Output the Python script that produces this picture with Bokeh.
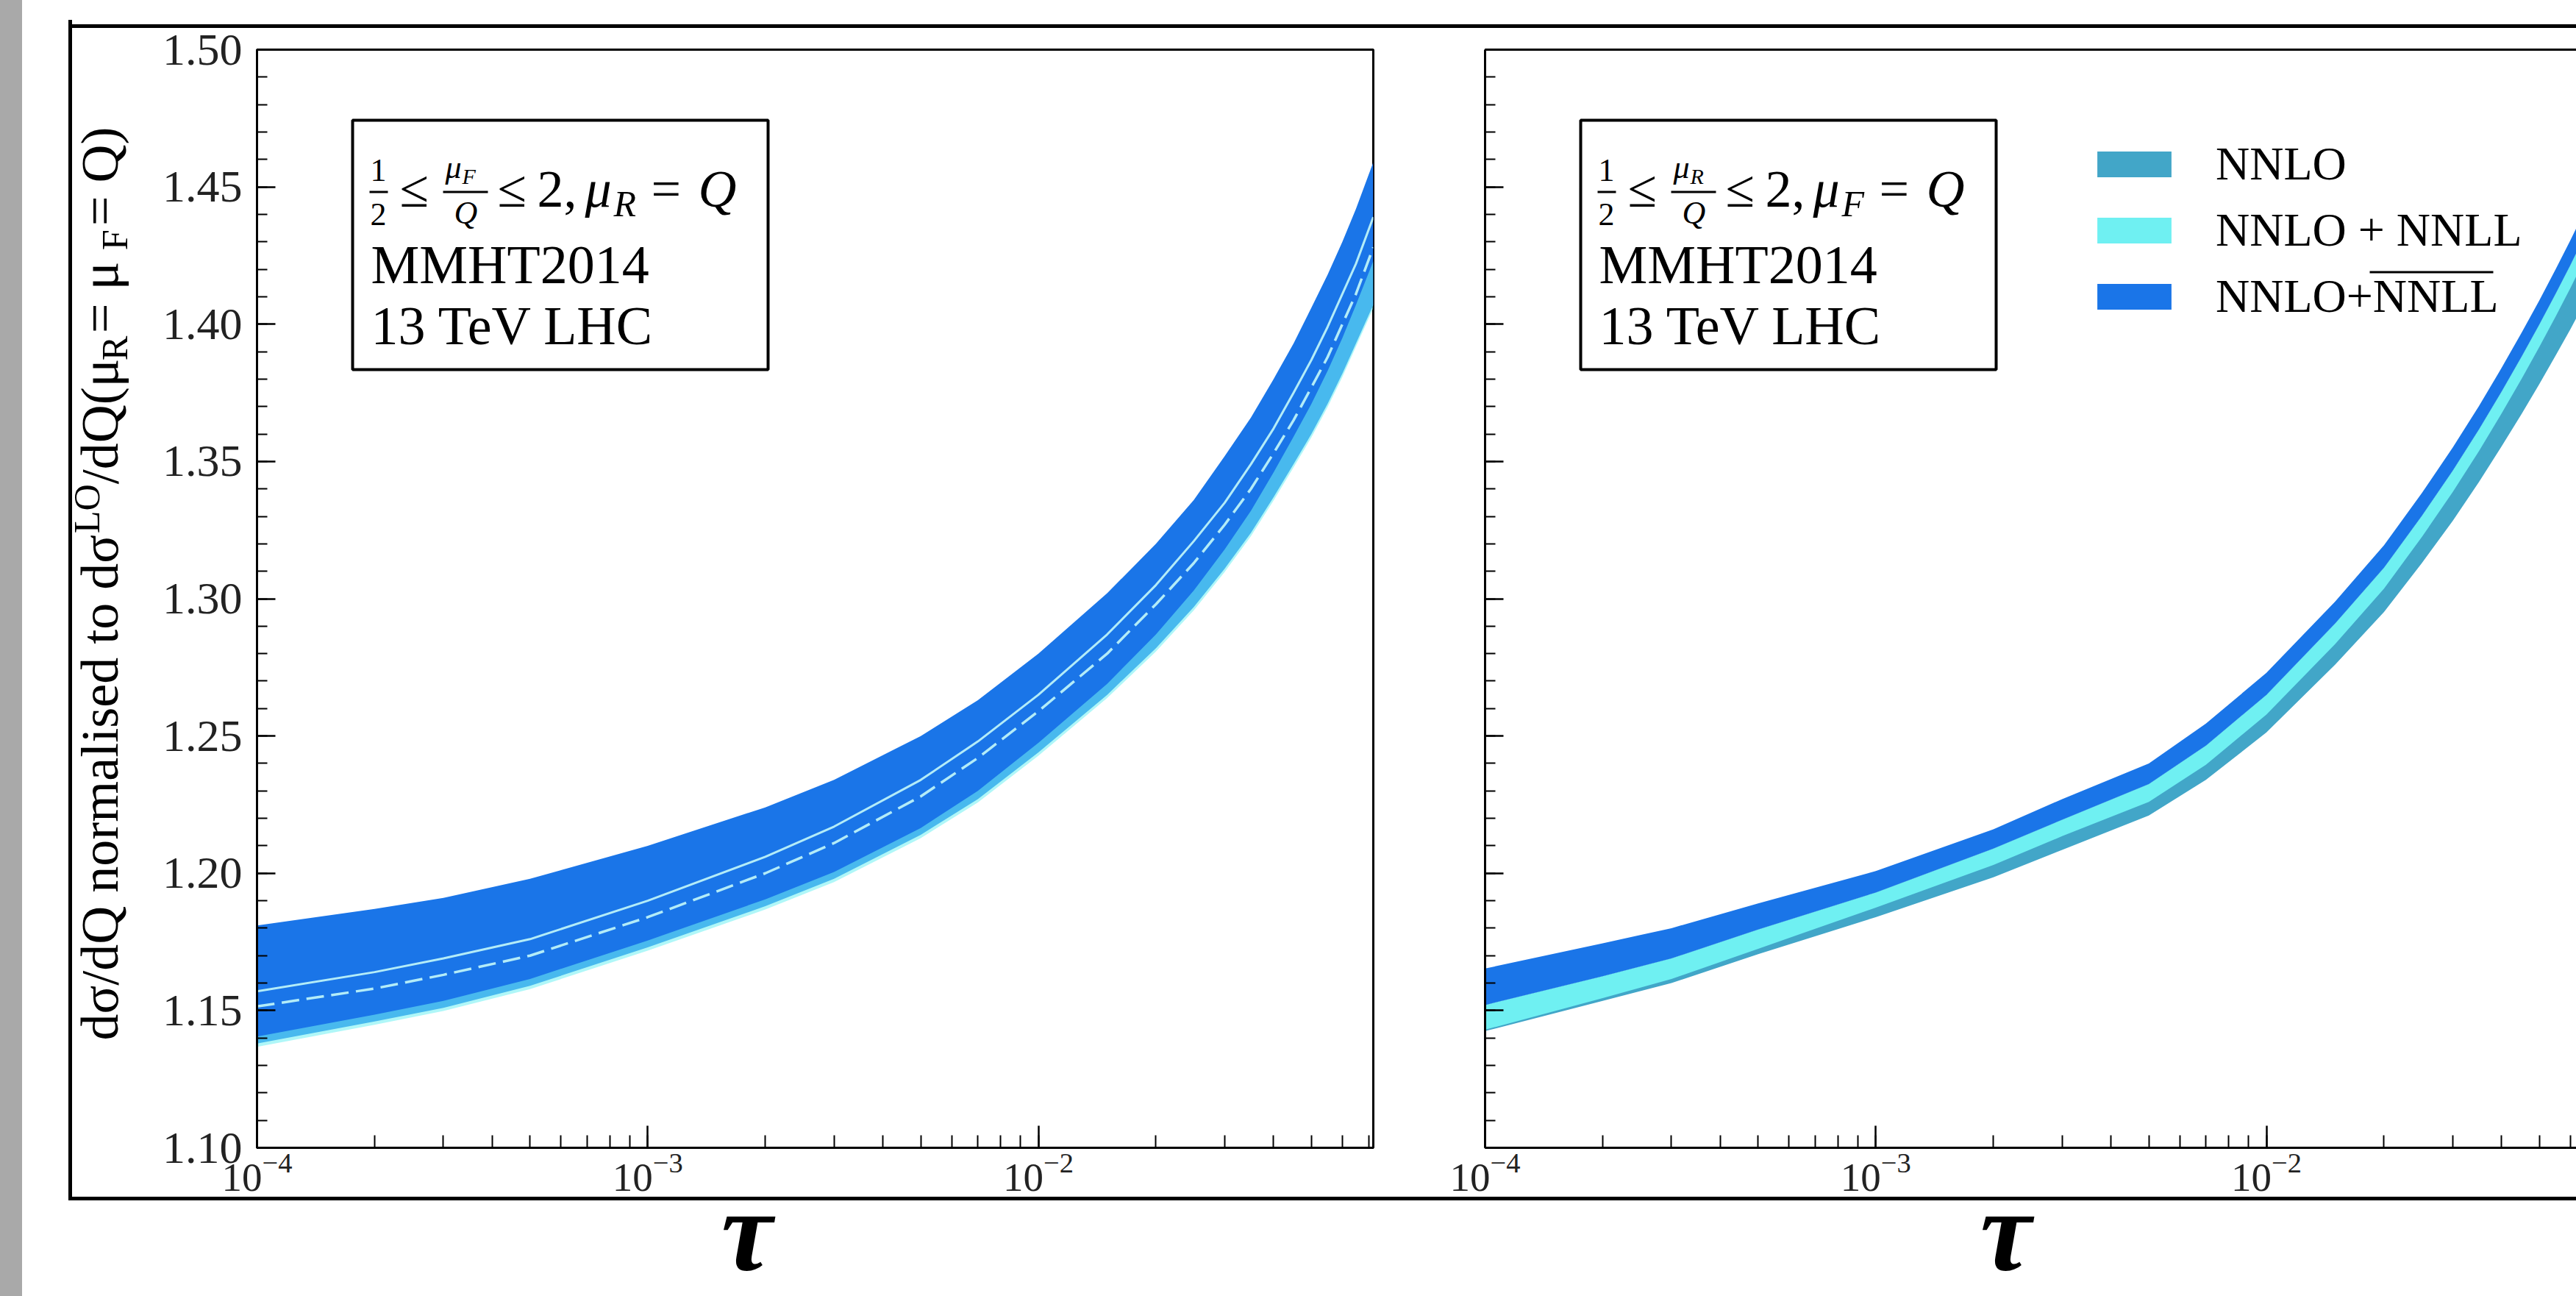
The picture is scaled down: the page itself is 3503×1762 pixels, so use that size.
import math
from bokeh.plotting import figure
from bokeh.models import (Range1d, SingleIntervalTicker, PrintfTickFormatter, Label,
                          BoxAnnotation, Legend, LegendItem, Div, Spacer, LogAxis, FixedTicker,
                          CustomJSTickFormatter)
from bokeh.layouts import row, column
from bokeh.embed import file_html
from bokeh.resources import INLINE
from bokeh.core.validation import silence
from bokeh.core.validation.warnings import MISSING_RENDERERS

silence(MISSING_RENDERERS, True)

# ---------------- data ----------------
tau = [1e-4, 2e-4, 3e-4, 5e-4, 1e-3, 2e-3, 3e-3, 5e-3, 7e-3, 1e-2, 1.5e-2, 2e-2,
       2.5e-2, 3e-2, 3.5e-2, 4e-2, 4.5e-2, 5e-2, 5.5e-2, 6e-2, 6.5e-2, 7.2e-2]

# left panel: 1/2 <= muF/Q <= 2, muR = Q
left_bar_hi = [1.181, 1.187, 1.191, 1.198, 1.210, 1.224, 1.234, 1.250, 1.263, 1.280, 1.302,
               1.320, 1.336, 1.352, 1.366, 1.380, 1.393, 1.406, 1.418, 1.430, 1.442, 1.459]
left_bar_lo = [1.138, 1.146, 1.151, 1.159, 1.173, 1.188, 1.198, 1.214, 1.227, 1.244, 1.265,
               1.282, 1.297, 1.311, 1.324, 1.337, 1.349, 1.360, 1.371, 1.382, 1.393, 1.407]
left_nnll_lo = [1.1368, 1.1448, 1.1498, 1.1578, 1.1718, 1.1868, 1.1968, 1.2128, 1.2258, 1.2428,
                1.2638, 1.2808, 1.2958, 1.3098, 1.3228, 1.3358, 1.3478, 1.3588, 1.3698, 1.3808,
                1.3918, 1.4058]
left_nnll_hi = [1.1405, 1.1485, 1.1535, 1.1615, 1.1755, 1.1905, 1.2005, 1.2165, 1.2300, 1.2475,
                1.2690, 1.2870, 1.3030, 1.3180, 1.3320, 1.3460, 1.3590, 1.3710, 1.3830, 1.3950,
                1.4070, 1.4230]
left_central = [1.157, 1.164, 1.169, 1.176, 1.190, 1.206, 1.217, 1.234, 1.248, 1.265, 1.287,
                1.305, 1.321, 1.335, 1.349, 1.362, 1.375, 1.387, 1.399, 1.411, 1.422, 1.439]
left_dashed = [1.1515, 1.158, 1.163, 1.170, 1.184, 1.200, 1.211, 1.228, 1.242, 1.259, 1.280,
               1.298, 1.313, 1.327, 1.340, 1.353, 1.365, 1.377, 1.388, 1.400, 1.411, 1.428]

# right panel: 1/2 <= muR/Q <= 2, muF = Q
right_bar_hi = [1.1653, 1.1745, 1.1800, 1.1890, 1.2008, 1.2160, 1.2270, 1.2400, 1.2545, 1.2730,
                1.2990, 1.3195, 1.3385, 1.3551, 1.3702, 1.3841, 1.3969, 1.4088, 1.4200, 1.4306,
                1.4407, 1.4540]
right_bar_lo = [1.1520, 1.1625, 1.1690, 1.1795, 1.1930, 1.2090, 1.2195, 1.2325, 1.2465, 1.2650,
                1.2910, 1.3113, 1.3302, 1.3467, 1.3617, 1.3755, 1.3882, 1.4000, 1.4111, 1.4216,
                1.4316, 1.4448]
right_nnll_lo = [1.1430, 1.1545, 1.1615, 1.1725, 1.1875, 1.2030, 1.2135, 1.2260, 1.2395, 1.2578,
                 1.2835, 1.3037, 1.3225, 1.3389, 1.3538, 1.3675, 1.3801, 1.3918, 1.4028, 1.4132,
                 1.4231, 1.4362]
right_nnlo_lo = [1.1425, 1.1535, 1.1600, 1.1705, 1.1840, 1.1985, 1.2085, 1.2210, 1.2340, 1.2513,
                 1.2760, 1.2952, 1.3130, 1.3284, 1.3425, 1.3555, 1.3673, 1.3783, 1.3886, 1.3982,
                 1.4075, 1.4197]

series_names = ["NNLO", "NNLO + NNLL", "NNLO+NNLL"]
y_ticks_interval = 0.05
y_min, y_max = 1.10, 1.50
x_min, x_max_left = 1e-4, 0.072

# ---------------- styling ----------------
FONT = "Liberation Serif"
C_NNLO = "#42a6c8"
C_NNLL = "#6ff0f2"
C_BAR = "#1a75e8"
C_LINE = "#b3ecf8"
MID = 0.3375            # em-box centre above the baseline

FRAME_L = 1518          # left panel frame width (px)
FRAME_R = 1484          # visible part of the right panel frame
FRAME_H = 1493
TOP_B, BOT_B = 40, 85   # panel borders above / below the frame
FIG_H = TOP_B + FRAME_H + BOT_B
UP = 11                 # panels start 11px above the top frame bar's bottom
DOWN = 18               # bottom frame bar overlaps the panels' lower border
DEC_PX = FRAME_L / math.log10(x_max_left / x_min)
x_max_right = x_min * 10 ** (FRAME_R / DEC_PX)


def panel(frame_w, xmax, min_left, min_right, labels):
    p = figure(x_axis_type="log", x_range=Range1d(x_min, xmax), y_range=Range1d(y_min, y_max),
               frame_width=frame_w, frame_height=FRAME_H, min_border_left=min_left,
               min_border_right=min_right, min_border_top=TOP_B, min_border_bottom=BOT_B,
               toolbar_location=None, output_backend="svg")
    p.grid.visible = False
    p.background_fill_color = "white"
    p.border_fill_color = None
    ya = p.yaxis[0]
    ya.ticker = SingleIntervalTicker(interval=y_ticks_interval, num_minor_ticks=5)
    ya.major_tick_in = 25
    ya.major_tick_out = 0
    ya.minor_tick_in = 14
    ya.minor_tick_out = 0
    ya.axis_line_width = 3
    ya.major_tick_line_width = 2.5
    ya.minor_tick_line_width = 2
    if labels:
        ya.formatter = PrintfTickFormatter(format="%.2f")
        ya.major_label_text_font = FONT
        ya.major_label_text_color = "#222222"
        ya.major_label_standoff = 20
        ya.major_label_text_font_size = "62px"
    else:
        ya.formatter = CustomJSTickFormatter(code="return ''")
        ya.major_label_text_color = None
        ya.major_label_standoff = 0
    xa = p.xaxis[0]
    xa.major_tick_in = 30
    xa.major_tick_out = 0
    xa.minor_tick_in = 17
    xa.minor_tick_out = 0
    xa.axis_line_width = 3
    xa.major_tick_line_width = 2.5
    xa.minor_tick_line_width = 2
    xa.major_label_text_font = FONT
    xa.major_label_text_color = "#222222"
    xa.major_label_text_font_size = "55px"
    xa.major_label_standoff = 8
    return p


def lab(p, x, y, text, size, style="normal", align="left", angle=0.0, color="black"):
    """(x, y) is the start of the text's baseline (screen units, y upwards)."""
    if angle:
        x = x - MID * size
    else:
        y = y + MID * size
    p.add_layout(Label(x=x, y=y, x_units="screen", y_units="screen", text=text,
                       text_font=FONT, text_font_size=f"{size}px", text_font_style=style,
                       text_align=align, text_baseline="middle", angle=angle,
                       text_color=color))


def box(p, l, r, t, b, fill="white", line="black", lw=4):
    p.add_layout(BoxAnnotation(left=l, right=r, top=t, bottom=b, left_units="screen",
                               right_units="screen", top_units="screen", bottom_units="screen",
                               fill_color=fill, fill_alpha=1.0, line_color=line,
                               line_alpha=1.0, line_width=lw))


def info_box(p, frac_sub, main_sub):
    # positions relative to the frame (x from left, y up from the frame bottom)
    box(p, 130, 695, 1397, 1058)
    box(p, 153, 178, 1301, 1298, fill="black", line=None, lw=0)   # 1/2 bar
    box(p, 253, 314, 1301, 1298, fill="black", line=None, lw=0)   # mu/Q bar
    lab(p, 165, 1314, "1", 44, align="center")
    lab(p, 165, 1254, "2", 44, align="center")
    lab(p, 194, 1279, "\u2264", 72)
    lab(p, 256, 1318, "\u03bc", 44, "italic")
    lab(p, 279, 1311, frac_sub, 30, "italic")
    lab(p, 284, 1256, "Q", 44, "italic", align="center")
    lab(p, 327, 1279, "\u2264", 72)
    lab(p, 381, 1279, "2,", 72)
    lab(p, 446, 1279, "\u03bc", 72, "italic")
    lab(p, 485, 1267, main_sub, 50, "italic")
    lab(p, 536, 1279, "=", 72)
    lab(p, 600, 1279, "Q", 72, "italic")
    lab(p, 155, 1176, "MMHT2014", 74)
    lab(p, 155, 1093, "13 TeV LHC", 74)


# ---------------- y-axis title (its own transparent canvas) ----------------
TITLE_W = 115
TITLE_EXTRA = 60        # canvas reaches 60px further left, over the frame line
title_fig = figure(width=TITLE_W + TITLE_EXTRA, height=FIG_H, min_border=0,
                   toolbar_location=None, output_backend="svg", x_axis_location=None,
                   y_axis_location=None, x_range=Range1d(0, 1), y_range=Range1d(0, 1),
                   margin=(0, 0, 0, -TITLE_EXTRA))
title_fig.outline_line_color = None
title_fig.background_fill_color = None
title_fig.border_fill_color = None
title_fig.grid.visible = False
W = {' ': .25, 'd': .5, '\u03c3': .55, '/': .278, 'Q': .722, 'n': .5, 'o': .5, 'r': .333,
     'm': .778, 'a': .444, 'l': .278, 'i': .278, 's': .389, 'e': .444, 't': .278, 'L': .611,
     'O': .722, '(': .333, ')': .333, '\u03bc': .5, 'R': .74, 'F': .66, '=': .564}
title_pieces = [("d\u03c3/dQ normalised to d\u03c3", 1.0, 0.0), ("LO", 0.7, 0.36),
                ("/dQ(\u03bc", 1.0, 0.0), ("R", 0.7, -0.17), (" = \u03bc", 1.0, 0.0),
                ("F", 0.7, -0.17), (" = Q)", 1.0, 0.0)]
TS = 72
total = sum(sum(W.get(c, .5) for c in t) * s for t, s, _ in title_pieces) * TS
ty = 776 - total / 2
tx = 62 + TITLE_EXTRA
for t, s, sh in title_pieces:
    lab(title_fig, tx - sh * TS, ty, t, round(TS * s, 1), angle=math.pi / 2)
    ty += sum(W.get(c, .5) for c in t) * s * TS

# ---------------- left panel ----------------
pL = panel(FRAME_L, x_max_left, 136, 76, True)
pL.outline_line_color = "black"
pL.outline_line_width = 3
pL.varea(x=tau, y1=left_bar_lo, y2=left_bar_hi, fill_color=C_BAR)
pL.varea(x=tau, y1=left_nnll_lo, y2=left_nnll_hi, fill_color=C_NNLL, fill_alpha=0.55)
pL.line(x=tau, y=left_central, line_color=C_LINE, line_width=3)
pL.line(x=tau, y=left_dashed, line_color=C_LINE, line_width=3.5, line_dash="24 10")
info_box(pL, "F", "R")

# ---------------- right panel ----------------
pR = panel(FRAME_R, x_max_right, 76, 0, False)
pR.outline_line_color = None
top_axis = LogAxis(ticker=FixedTicker(ticks=[]), axis_line_width=3, major_tick_in=0,
                   major_tick_out=0, minor_tick_in=0, minor_tick_out=0,
                   major_label_text_color=None, major_label_standoff=0)
pR.add_layout(top_axis, "above")
r_nnlo = pR.varea(x=tau, y1=right_nnlo_lo, y2=right_bar_lo, fill_color=C_NNLO)
r_nnll = pR.varea(x=tau, y1=right_nnll_lo, y2=right_bar_lo, fill_color=C_NNLL)
r_bar = pR.varea(x=tau, y1=right_bar_lo, y2=right_bar_hi, fill_color=C_BAR)
info_box(pR, "R", "F")

legend = Legend(items=[LegendItem(label=series_names[0], renderers=[r_nnlo]),
                       LegendItem(label=series_names[1], renderers=[r_nnll]),
                       LegendItem(label=series_names[2], renderers=[r_bar])],
                location=(820, 1120), glyph_width=126, glyph_height=44, label_standoff=48,
                label_text_font=FONT, label_text_font_size="64px", label_text_color="black",
                spacing=16, padding=0, margin=0, border_line_color=None,
                background_fill_alpha=0)
pR.add_layout(legend)
# overline over "NNLL" in the third legend entry
box(pR, 1203, 1371, 1192, 1189, fill="black", line=None, lw=0)

# ---------------- slide frame and tau labels ----------------
MAIN_W = 3410
OVERLAP = 50
TAU_H = 130 + OVERLAP
tau_fig = figure(width=MAIN_W, height=TAU_H, min_border=0, toolbar_location=None,
                 output_backend="svg", x_axis_location=None, y_axis_location=None,
                 x_range=Range1d(0, 1), y_range=Range1d(0, 1),
                 margin=(-OVERLAP, 0, 0, 0))
tau_fig.outline_line_color = None
tau_fig.background_fill_color = None
tau_fig.border_fill_color = None
tau_fig.grid.visible = False
for cx in (922, 2634):
    tau_fig.add_layout(Label(x=cx, y=90, x_units="screen", y_units="screen", text="\u03c4",
                             text_font=FONT, text_font_size="157px",
                             text_font_style="bold italic", text_align="center",
                             text_baseline="middle", text_color="black"))


def bar(w, h, color="black", margin=0):
    return Div(width=w, height=h, margin=margin, styles={"background-color": color})


panels_row = row(bar(5, FIG_H - DOWN), title_fig, pL, pR, margin=(-UP, 0, 0, 0))
main_col = column(Spacer(width=MAIN_W, height=33, margin=0),
                  bar(MAIN_W, 5),
                  panels_row,
                  bar(MAIN_W, 5, margin=(-DOWN, 0, 0, 0)),
                  tau_fig)
page = row(bar(30, 1762, "#a9a9a9"), Spacer(width=63, height=1762, margin=0), main_col)

open("out.html", "w").write(file_html(page, INLINE))
